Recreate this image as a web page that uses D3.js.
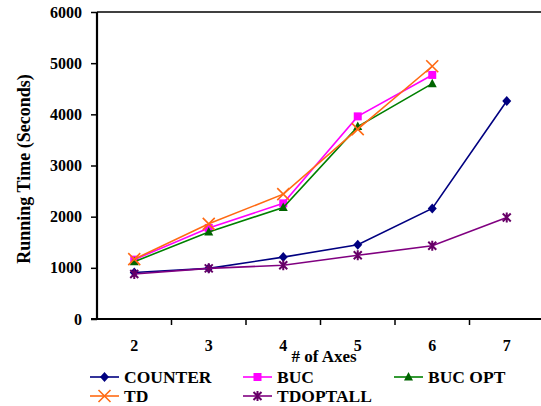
<!DOCTYPE html>
<html><head><meta charset="utf-8">
<script src="https://cdn.jsdelivr.net/npm/d3@7"></script>
<style>body{margin:0;background:#fff}svg{display:block}text{font-family:"Liberation Serif","Times New Roman",serif;font-weight:bold;fill:#000}</style>
</head><body>
<script>
const categories = ["2","3","4","5","6","7"];
const counter  = [910, 990, 1210, 1450, 2160, 4260];
const buc      = [1160, 1780, 2260, 3960, 4770, null];
const bucOpt   = [1120, 1700, 2180, 3760, 4600, null];
const td       = [1170, 1860, 2440, 3710, 4940, null];
const tdOptAll = [880, 990, 1050, 1245, 1430, 1985];
const yTicks = [0,1000,2000,3000,4000,5000,6000];

const series = [
  {name:"COUNTER", values:counter, color:"#000080", marker:"diamond"},
  {name:"BUC", values:buc, color:"#FF00FF", marker:"square"},
  {name:"BUC OPT", values:bucOpt, color:"#008000", mcolor:"#006400", marker:"triangle"},
  {name:"TD", values:td, color:"#FF6A13", marker:"x"},
  {name:"TDOPTALL", values:tdOptAll, color:"#800080", mcolor:"#660066", marker:"star"}
];

const W=541,H=406;
const svg=d3.select("body").append("svg").attr("width",W).attr("height",H);
const pLeft=97, pRight=544, pTop=12, pBottom=319;
const x=d3.scaleBand().domain(categories).range([pLeft,pRight]);
const y=d3.scaleLinear().domain([0,6000]).range([pBottom,pTop]);

// top frame line
svg.append("line").attr("x1",pLeft).attr("x2",W).attr("y1",pTop).attr("y2",pTop).attr("stroke","#000").attr("stroke-width",1.5);

// y axis
const ya=svg.append("g").attr("transform",`translate(${pLeft},0)`).call(d3.axisLeft(y).tickValues(yTicks).tickSize(6).tickPadding(9).tickFormat(d3.format("d")));
ya.select(".domain").attr("stroke-width",2.2).attr("d",`M0,${pTop}V${pBottom}`);
ya.selectAll(".tick line").attr("stroke-width",1.5);
ya.selectAll("text").attr("font-size",16).attr("font-family","Liberation Serif").attr("font-weight","bold").attr("fill","#000");

// x axis
const xa=svg.append("g").attr("transform",`translate(0,${pBottom})`).call(d3.axisBottom(x).tickSize(0).tickPadding(21));
xa.select(".domain").attr("stroke-width",1.8).attr("d",`M${pLeft-6},0H${W}`);
xa.selectAll("text").attr("font-size",16).attr("font-family","Liberation Serif").attr("font-weight","bold").attr("fill","#000");
const bounds=categories.slice(1).map(c=>x(c));
svg.append("g").selectAll("line").data(bounds).join("line")
  .attr("x1",d=>d).attr("x2",d=>d).attr("y1",pBottom).attr("y2",pBottom+6).attr("stroke","#000").attr("stroke-width",1.5);

// axis titles
svg.append("text").attr("x",324).attr("y",362).attr("text-anchor","middle").attr("font-size",17).text("# of Axes");
svg.append("text").attr("transform",`translate(30,169) rotate(-90)`).attr("text-anchor","middle").attr("font-size",18).text("Running Time (Seconds)");

function marker(g,type,color,cx,cy){
  if(type==="diamond") g.append("path").attr("d",`M${cx},${cy-5}L${cx+4.5},${cy}L${cx},${cy+5}L${cx-4.5},${cy}Z`).attr("fill",color);
  else if(type==="square") g.append("rect").attr("x",cx-4).attr("y",cy-4).attr("width",8).attr("height",8).attr("fill",color);
  else if(type==="triangle") g.append("path").attr("d",`M${cx},${cy-5}L${cx+4.5},${cy+3.5}L${cx-4.5},${cy+3.5}Z`).attr("fill",color);
  else if(type==="x") g.append("path").attr("d",`M${cx-6},${cy-6}L${cx+6},${cy+6}M${cx-6},${cy+6}L${cx+6},${cy-6}`).attr("stroke",color).attr("stroke-width",1.6).attr("fill","none");
  else if(type==="star") g.append("path").attr("d",`M${cx-4},${cy-4}L${cx+4},${cy+4}M${cx-4},${cy+4}L${cx+4},${cy-4}M${cx},${cy-5}L${cx},${cy+5}`).attr("stroke",color).attr("stroke-width",2).attr("fill","none");
}

const line=d3.line().defined(d=>d.v!=null).x(d=>x(d.c)+x.bandwidth()/2).y(d=>y(d.v));
series.forEach(s=>{
  const g=svg.append("g");
  const data=categories.map((c,i)=>({c,v:s.values[i]}));
  g.append("path").datum(data).attr("d",line).attr("fill","none").attr("stroke",s.color).attr("stroke-width",1.6);
  data.filter(d=>d.v!=null).forEach(d=>marker(g,s.marker,s.mcolor||s.color,x(d.c)+x.bandwidth()/2,y(d.v)));
});

// legend
const legPos=[[90,377],[243,377],[394,377],[90,396],[243,396]];
series.forEach((s,i)=>{
  const [lx,ly]=legPos[i];
  const g=svg.append("g");
  g.append("line").attr("x1",lx).attr("x2",lx+29).attr("y1",ly).attr("y2",ly).attr("stroke",s.color).attr("stroke-width",1.6);
  marker(g,s.marker,s.mcolor||s.color,lx+14.5,ly);
  g.append("text").attr("x",lx+34).attr("y",ly+6).attr("font-size",17.5).text(s.name);
});
</script>
</body></html>
